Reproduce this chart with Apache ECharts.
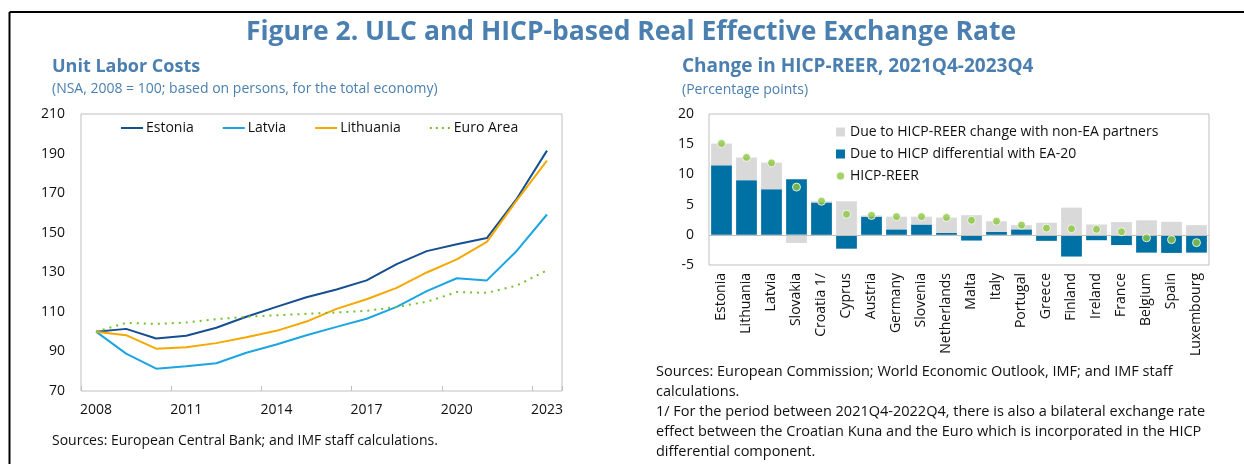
<!DOCTYPE html>
<html>
<head>
<meta charset="utf-8">
<script src="https://cdn.jsdelivr.net/npm/echarts@6/dist/echarts.min.js"></script>
<style>
html,body{margin:0;padding:0;background:#fff;}
#main{width:1244px;height:464px;}
</style>
</head>
<body>
<div id="main"></div>
<script>
// left panel: unit labor costs, 2008 = 100
var years=['2008','2009','2010','2011','2012','2013','2014','2015','2016','2017','2018','2019','2020','2021','2022','2023'];
var estonia=[100,101.4,96.5,97.9,102,107.5,112.5,117.4,121.3,125.9,134.1,140.7,144.2,147.3,167.3,191.5];
var latvia=[100,88.9,81.3,82.5,84,89.3,93.5,98.2,102.4,106.5,112.5,120.5,127,125.9,140.9,159.2];
var lithuania=[100,98.2,91.4,92.1,94.2,97.2,100.4,105.1,111.5,116.4,122.1,129.9,136.5,145.4,166.5,186.4];
var euroArea=[100,104.4,103.9,104.6,106.3,107.5,108.3,109,109.7,110.5,112.5,115.1,120,119.6,123.3,131];

// right panel: change in HICP-REER (pp)
var countries=['Estonia','Lithuania','Latvia','Slovakia','Croatia 1/','Cyprus','Austria','Germany','Slovenia','Netherlands','Malta','Italy','Portugal','Greece','Finland','Ireland','France','Belgium','Spain','Luxembourg'];
var hicpDiff=[11.5,9.05,7.55,9.2,5.35,-2.3,3.0,0.9,1.7,0.3,-0.95,0.5,0.9,-1.0,-3.6,-0.9,-1.7,-2.95,-3.0,-2.95];
var nonEa=[3.6,3.75,4.4,-1.35,0.2,5.55,0.2,2.1,1.3,2.55,3.25,1.75,0.7,2.0,4.5,1.7,2.1,2.4,2.15,1.6];
var reer=[15.1,12.8,11.9,7.9,5.55,3.4,3.2,3.0,3.0,2.85,2.4,2.25,1.6,1.1,1.0,0.9,0.5,-0.5,-0.8,-1.3];

var notes=[
  'Sources: European Commission; World Economic Outlook, IMF; and IMF staff',
  'calculations.',
  '1/ For the period between 2021Q4-2022Q4, there is also a bilateral exchange rate',
  'effect between the Croatian Kuna and the Euro which is incorporated in the HICP',
  'differential component.'
];

var FONT='"Open Sans", sans-serif';
var TITLE_BLUE='#4a7fb0';
var AXIS_GRAY='#bfbfbf';
// legend icons: solid line and dotted line
var LINE_ICON='path://M0,0L22,0L22,2L0,2Z';
var DOT_ICON='path://M0,0h2v2h-2zM6,0h2v2h-2zM12,0h2v2h-2zM18,0h2v2h-2z';

var myChart=echarts.init(document.getElementById('main'));

var texts=[
  {x:631,y:32,text:'Figure 2. ULC and HICP-based Real Effective Exchange Rate',align:'center',font:'bold 26.5px '+FONT,fill:TITLE_BLUE},
  {x:52,y:67,text:'Unit Labor Costs',font:'bold 18px '+FONT,fill:TITLE_BLUE},
  {x:52,y:89,text:'(NSA, 2008 = 100; based on persons, for the total economy)',font:'14px '+FONT,fill:TITLE_BLUE},
  {x:682,y:67,text:'Change in HICP-REER, 2021Q4-2023Q4',font:'bold 19px '+FONT,fill:TITLE_BLUE},
  {x:682,y:90,text:'(Percentage points)',font:'14px '+FONT,fill:TITLE_BLUE},
  {x:52,y:441,text:'Sources: European Central Bank; and IMF staff calculations.',font:'14px '+FONT,fill:'#111'}
];
notes.forEach(function(t,i){
  texts.push({x:656,y:372+i*20,text:t,font:'14.5px '+FONT,fill:'#111'});
});
var graphics=texts.map(function(t){
  return {type:'text',x:t.x,y:t.y,silent:true,
    style:{text:t.text,font:t.font,fill:t.fill,textAlign:t.align||'left',textVerticalAlign:'middle'}};
});
// frame lines
graphics.push({type:'line',silent:true,shape:{x1:9.5,y1:12,x2:1244,y2:12},style:{stroke:'#000',lineWidth:2}});
graphics.push({type:'line',silent:true,shape:{x1:9.5,y1:12,x2:9.5,y2:464},style:{stroke:'#000',lineWidth:2}});

var option={
  animation:false,
  textStyle:{fontFamily:FONT},
  graphic:graphics,
  grid:[
    {left:81,top:114,width:481,height:277,show:true,borderColor:AXIS_GRAY,borderWidth:1},
    {left:709,top:114,width:500,height:151,show:true,borderColor:AXIS_GRAY,borderWidth:1}
  ],
  legend:[
    {
      left:116,top:116,itemGap:29,itemWidth:22,itemHeight:2,
      textStyle:{fontSize:14,color:'#111',fontFamily:FONT,padding:[0,0,0,-2]},
      data:[
        {name:'Estonia',icon:LINE_ICON},
        {name:'Latvia',icon:LINE_ICON},
        {name:'Lithuania',icon:LINE_ICON},
        {name:'Euro Area',icon:DOT_ICON}
      ]
    },
    {
      orient:'vertical',left:830,top:120,itemGap:8,itemWidth:9,itemHeight:9,
      textStyle:{fontSize:14,color:'#111',fontFamily:FONT},
      data:[
        {name:'Due to HICP-REER change with non-EA partners',icon:'rect'},
        {name:'Due to HICP differential with EA-20',icon:'rect'},
        {name:'HICP-REER',icon:'circle'}
      ]
    }
  ],
  xAxis:[
    {
      gridIndex:0,type:'category',data:years,boundaryGap:true,
      axisLine:{show:false},
      axisTick:{show:true,inside:true,length:5,interval:2,lineStyle:{color:AXIS_GRAY}},
      axisLabel:{interval:2,fontSize:14,color:'#111',margin:12,fontFamily:FONT}
    },
    {
      gridIndex:1,type:'category',data:countries,
      axisLine:{show:false,onZero:false},
      axisTick:{show:false},
      axisLabel:{rotate:90,interval:0,fontSize:14,color:'#111',margin:8,fontFamily:FONT}
    }
  ],
  yAxis:[
    {
      gridIndex:0,type:'value',min:70,max:210,interval:20,
      axisLine:{show:false},axisTick:{show:false},splitLine:{show:false},
      axisLabel:{fontSize:14,color:'#111',margin:16,fontFamily:FONT}
    },
    {
      gridIndex:1,type:'value',min:-5,max:20,interval:5,
      axisLine:{show:false},axisTick:{show:false},splitLine:{show:false},
      axisLabel:{fontSize:14,color:'#111',margin:15,fontFamily:FONT}
    }
  ],
  series:[
    {name:'Estonia',type:'line',xAxisIndex:0,yAxisIndex:0,data:estonia,symbol:'none',
      lineStyle:{color:'#164f90',width:2},itemStyle:{color:'#164f90'}},
    {name:'Latvia',type:'line',xAxisIndex:0,yAxisIndex:0,data:latvia,symbol:'none',
      lineStyle:{color:'#1ba5e1',width:2},itemStyle:{color:'#1ba5e1'}},
    {name:'Lithuania',type:'line',xAxisIndex:0,yAxisIndex:0,data:lithuania,symbol:'none',
      lineStyle:{color:'#f4a800',width:2},itemStyle:{color:'#f4a800'}},
    {name:'Euro Area',type:'line',xAxisIndex:0,yAxisIndex:0,data:euroArea,symbol:'none',
      lineStyle:{color:'#74c02e',width:2,type:[2,5]},itemStyle:{color:'#74c02e'}},
    {name:'Due to HICP differential with EA-20',type:'bar',xAxisIndex:1,yAxisIndex:1,stack:'reer',
      data:hicpDiff,barCategoryGap:'17%',itemStyle:{color:'#0071a4'},
      markLine:{silent:true,symbol:'none',label:{show:false},
        lineStyle:{color:AXIS_GRAY,width:1,type:'solid'},data:[{yAxis:0}]}},
    {name:'Due to HICP-REER change with non-EA partners',type:'bar',xAxisIndex:1,yAxisIndex:1,stack:'reer',
      data:nonEa,barCategoryGap:'17%',itemStyle:{color:'#d9d9d9'}},
    {name:'HICP-REER',type:'scatter',xAxisIndex:1,yAxisIndex:1,data:reer,symbolSize:8,z:5,
      itemStyle:{color:'#8dc63f',borderColor:'#fff',borderWidth:1}}
  ]
};

myChart.setOption(option);
</script>
</body>
</html>
